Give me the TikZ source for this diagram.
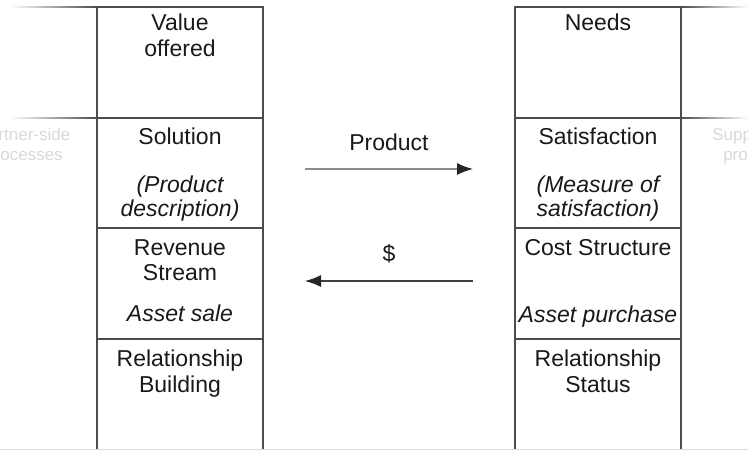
\documentclass[tikz,border=0pt]{standalone}
\usepackage{fontspec}
\setmainfont{Liberation Sans}
\usetikzlibrary{arrows.meta,positioning}

\begin{document}
\begin{tikzpicture}[x=1pt, y=1pt,
			cell/.style  = {draw=black!70, line width=1.1pt, minimum width=166pt, inner sep=0pt, outer sep=0pt, anchor=north},
			head/.style  = {font=\fontsize{23}{25.5}\selectfont, text=black!90, align=center, inner sep=0pt},
			note/.style  = {head, font=\fontsize{23}{24}\selectfont\itshape},
			faint/.style = {font=\fontsize{17}{20}\selectfont, text=black!15, align=center, inner sep=0pt, anchor=north},
			flow/.style  = {line width=1.3pt, -{Latex[length=16pt, width=12pt, color=black!85]}},
			>=latex]
			
			\useasboundingbox (0,0) rectangle (748,-450);
			
			% the two columns, one cell below the other
			\foreach \side/\x in {l/180, r/598} {
				\node[cell, minimum height=111pt] (\side1) at (\x,-7) {};
				\node[cell, minimum height=110pt, below=0pt of \side1] (\side2) {};
				\node[cell, minimum height=111pt, below=0pt of \side2] (\side3) {};
				\node[cell, minimum height=116pt, below=0pt of \side3] (\side4) {};
			}
			
			% fading rules at the top and under the first row
			\shade[left color=white, right color=black!70] (10,-6.4) rectangle (97,-7.6);
			\shade[left color=black!70, right color=white] (681,-6.4) rectangle (748,-7.6);
			\shade[left color=white, right color=black!70] (10,-117.4) rectangle (97,-118.6);
			\shade[left color=black!70, right color=white] (681,-117.4) rectangle (748,-118.6);
			\draw[black!15, line width=1pt] (0,-449.5) -- (748,-449.5);
			
			% seller side
			\node[head, below=7pt of l1.north] (l1a) {Value\\offered};
			\node[head, below=10pt of l2.north] (l2a) {Solution};
			\node[note, below=58pt of l2.north] (l2b) {(Product\\description)};
			\node[head, below=11pt of l3.north] (l3a) {Revenue\\Stream};
			\node[note, below=77pt of l3.north] (l3b) {Asset sale};
			\node[head, below=11pt of l4.north] (l4a) {Relationship\\Building};
			
			% buyer side
			\node[head, below=7pt of r1.north] (r1a) {Needs};
			\node[head, below=10pt of r2.north] (r2a) {Satisfaction};
			\node[note, below=58pt of r2.north] (r2b) {(Measure of\\satisfaction)};
			\node[head, below=11pt of r3.north] (r3a) {Cost Structure};
			\node[note, below=78pt of r3.north] (r3b) {Asset purchase};
			\node[head, below=11pt of r4.north] (r4a) {Relationship\\Status};
			
			% faded neighbours, cut by the page
			\node[faint] (lside) at (24,-128) {Partner-side\\processes};
			\node[faint] (rside) at (762,-128) {Supplier-side\\processes};
			
			% exchanges
			\draw[flow, draw=black!45] ([xshift=42pt, yshift=4pt]l2.east) -- ([xshift=-42pt, yshift=4pt]r2.west)
				node[head, midway, above=18pt] (prod) {Product};
			\draw[flow, draw=black!75] ([xshift=-42pt, yshift=2.5pt]r3.west) -- ([xshift=42pt, yshift=2.5pt]l3.east)
				node[head, midway, above=17pt] (usd) {\$};
		\end{tikzpicture}
\end{document}
